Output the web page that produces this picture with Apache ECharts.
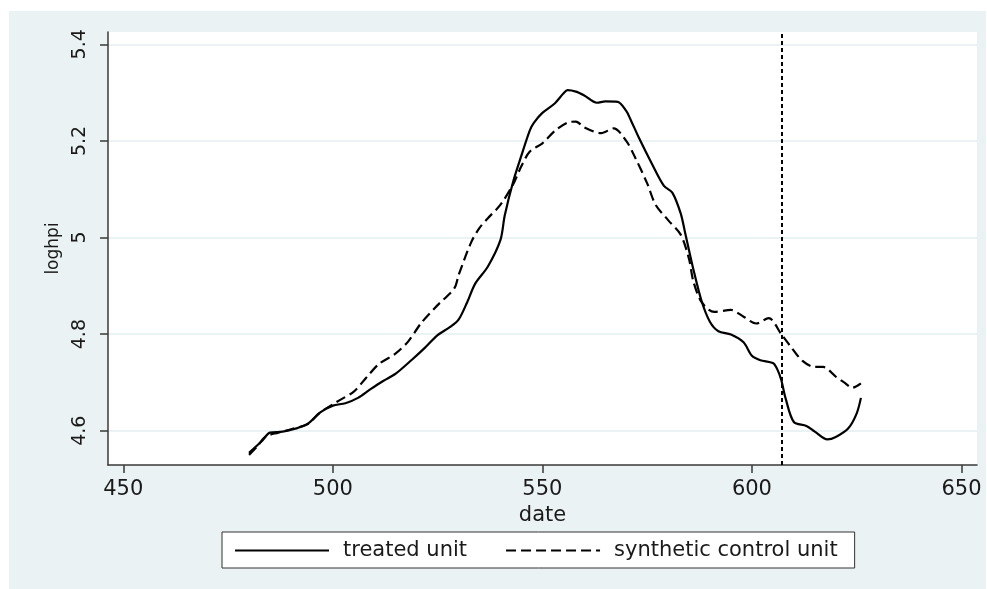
<!DOCTYPE html>
<html>
<head>
<meta charset="utf-8">
<script src="https://cdn.jsdelivr.net/npm/echarts@6/dist/echarts.min.js"></script>
<style>
html,body{margin:0;padding:0;background:#fff;}
#bg{position:absolute;left:9px;top:11px;width:977px;height:578px;background:#EAF2F3;}
#chart{position:absolute;left:0;top:0;width:987px;height:589px;}
</style>
</head>
<body>
<div id="bg"></div>
<div id="chart"></div>
<script>
// ---- data ----
const treatedDates = [480,483,485,488,491,494,497,500,503,506,509,512,515,519,522,525,528,530,532,534,537,540,541,543,545,547,548,550,553,555,556,558,560,563,565,568,570,571,573,576,579,581,583,584,586,588,590,592,595,598,600,602,605,606,607,608,610,613,615,618,620,623,625,626];
const treatedValues = [4.554,4.578,4.596,4.598,4.604,4.614,4.638,4.652,4.657,4.668,4.686,4.703,4.718,4.748,4.772,4.798,4.815,4.830,4.865,4.905,4.940,4.995,5.045,5.115,5.170,5.222,5.238,5.258,5.278,5.298,5.305,5.302,5.294,5.279,5.282,5.281,5.262,5.245,5.207,5.155,5.107,5.093,5.050,5.012,4.935,4.868,4.825,4.806,4.799,4.783,4.755,4.746,4.740,4.728,4.705,4.668,4.618,4.610,4.598,4.582,4.587,4.605,4.636,4.668];
const synthDates = [480,482,484,487,490,494,497,501,505,508,511,515,518,521,525,529,530,533,535,537,540,543,545,547,550,553,556,558,560,564,567,570,572,575,577,580,583,585,586,588,591,595,598,601,604,607,609,612,615,617,620,622,624,626];
const synthValues = [4.550,4.568,4.588,4.596,4.603,4.614,4.638,4.660,4.681,4.710,4.738,4.760,4.785,4.822,4.860,4.895,4.922,4.990,5.020,5.040,5.068,5.110,5.148,5.178,5.195,5.221,5.238,5.240,5.228,5.216,5.226,5.200,5.168,5.112,5.068,5.036,5.006,4.955,4.910,4.866,4.846,4.850,4.836,4.822,4.833,4.800,4.777,4.745,4.732,4.732,4.712,4.700,4.689,4.698];
const treatmentDate = 607;
const xTicks = [450,500,550,600,650];
const yTicks = [4.6,4.8,5,5.2,5.4];
const seriesNames = ['treated unit','synthetic control unit'];

const zip = (xs, ys) => xs.map((x, i) => [x, ys[i]]);
const FONT = 'DejaVu Sans';
const TXT = '#1a1a1a';
const AX = '#3a3a3a';

const chart = echarts.init(document.getElementById('chart'), null, {renderer: 'canvas'});
chart.setOption({
  backgroundColor: 'transparent',
  animation: false,
  grid: {left: 108, top: 32, right: 10, bottom: 124, show: true, backgroundColor: '#fff', borderWidth: 0, containLabel: false},
  legend: {
    left: 222, top: 532,
    orient: 'horizontal',
    data: seriesNames,
    backgroundColor: '#fff',
    borderColor: '#333', borderWidth: 1, borderRadius: 0,
    padding: [8, 17, 7, 12],
    itemWidth: 94, itemHeight: 14, itemGap: 38,
    itemStyle: {opacity: 0},
    textStyle: {fontFamily: FONT, fontSize: 21, color: TXT, padding: [0, 0, 0, 9]}
  },
  xAxis: {
    type: 'value', min: 446.35, max: 653.7,
    name: 'date', nameLocation: 'middle', nameGap: 33,
    nameTextStyle: {fontFamily: FONT, fontSize: 21, color: TXT},
    axisLine: {show: true, onZero: false, lineStyle: {color: AX, width: 1.5}},
    axisTick: {show: true, length: 8, customValues: xTicks, lineStyle: {color: AX, width: 1.5}},
    axisLabel: {customValues: xTicks, margin: 14, fontFamily: FONT, fontSize: 21, color: TXT},
    splitLine: {show: false}
  },
  yAxis: {
    type: 'value', min: 4.529, max: 5.4255,
    name: 'loghpi', nameLocation: 'middle', nameRotate: 90, nameGap: 46,
    nameTextStyle: {fontFamily: FONT, fontSize: 17, color: TXT},
    axisLine: {show: true, onZero: false, lineStyle: {color: AX, width: 1.5}},
    axisTick: {show: true, length: 8, customValues: yTicks, lineStyle: {color: AX, width: 1.5}},
    axisLabel: {customValues: yTicks, rotate: 90, margin: 18, fontFamily: FONT, fontSize: 19, color: TXT},
    splitLine: {show: true, lineStyle: {color: '#EAF2F3', width: 2}}
  },
  series: [
    {
      name: seriesNames[0], type: 'line', data: zip(treatedDates, treatedValues),
      symbol: 'none', smooth: 0.3,
      lineStyle: {color: '#000', width: 2.2, type: 'solid'},
      itemStyle: {color: '#000'},
      markLine: {
        silent: true, symbol: 'none', label: {show: false},
        lineStyle: {color: '#000', width: 2, type: [4, 3]},
        data: [{xAxis: treatmentDate}]
      }
    },
    {
      name: seriesNames[1], type: 'line', data: zip(synthDates, synthValues),
      symbol: 'none', smooth: 0.3,
      lineStyle: {color: '#000', width: 2.2, type: [10, 5]},
      itemStyle: {color: '#000'}
    }
  ]
});
</script>
</body>
</html>
